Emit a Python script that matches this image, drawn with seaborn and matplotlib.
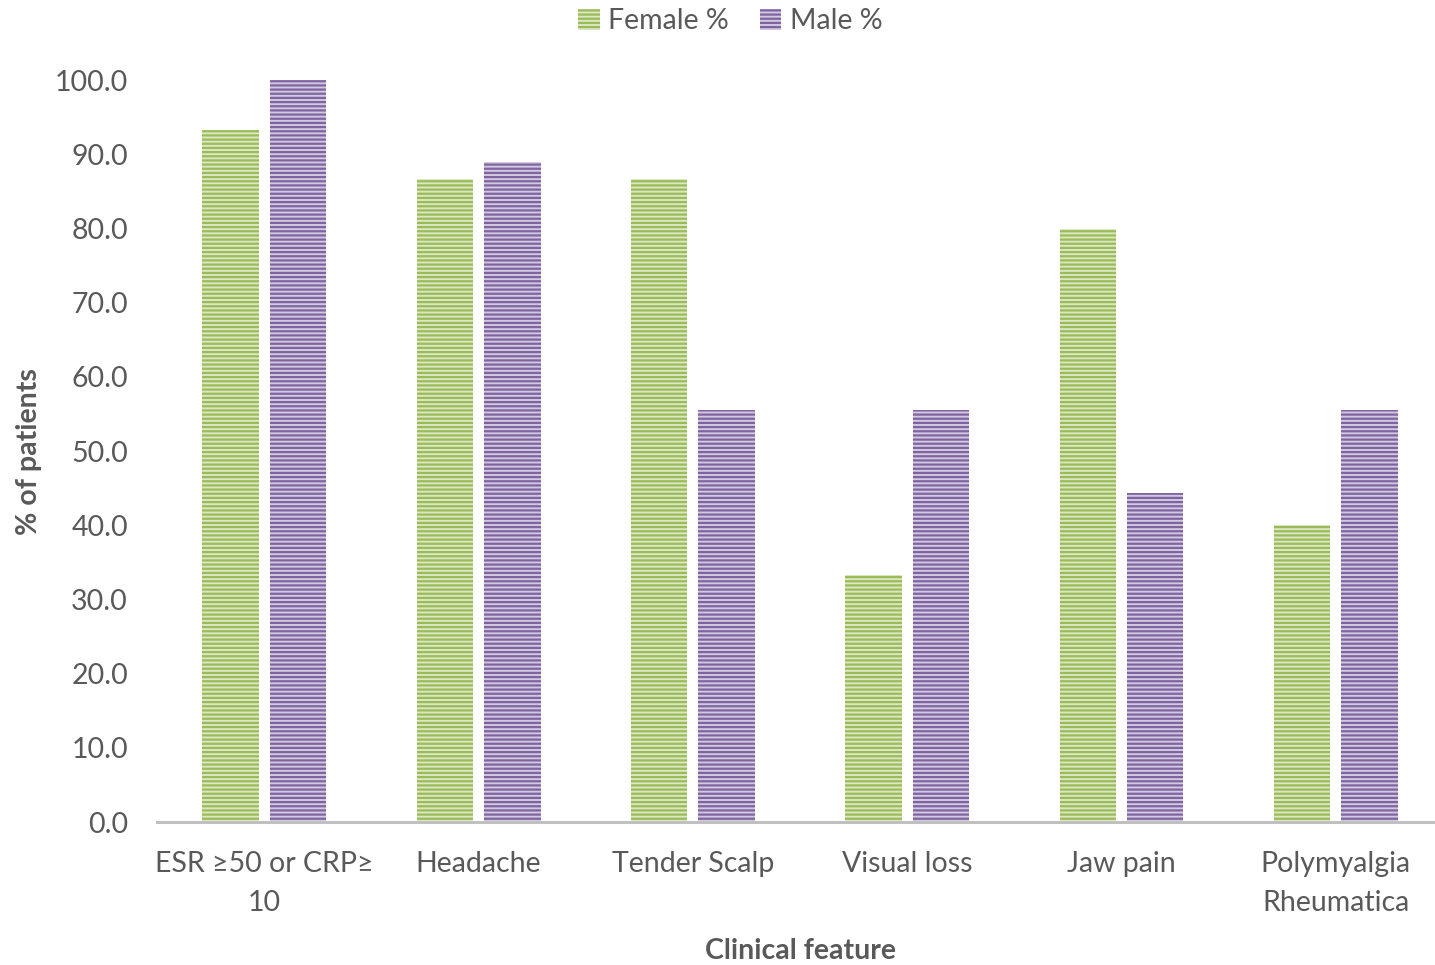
import matplotlib
matplotlib.use("Agg")
import matplotlib.pyplot as plt
from matplotlib.patches import Patch
import seaborn as sns
import pandas as pd

features = ["ESR \u226550 or CRP\u2265\n10", "Headache", "Tender Scalp",
            "Visual loss", "Jaw pain", "Polymyalgia\nRheumatica"]
female_pct = [93.3, 86.7, 86.7, 33.3, 80.0, 40.0]
male_pct = [100.0, 88.9, 55.6, 55.6, 44.4, 55.6]
series = ["Female %", "Male %"]
y_ticks = [0, 10, 20, 30, 40, 50, 60, 70, 80, 90, 100]

face_colors = {"Female %": "#dbe7c3", "Male %": "#d2c8df"}
stripe_colors = {"Female %": "#9bbb59", "Male %": "#8064a2"}

df = pd.DataFrame({
    "feature": features * 2,
    "series": [series[0]] * len(features) + [series[1]] * len(features),
    "value": female_pct + male_pct,
})

sns.set_theme(style="white")
plt.rcParams["font.family"] = ["Lato", "DejaVu Sans"]
plt.rcParams["hatch.linewidth"] = 1.6

fig = plt.figure(figsize=(14.35, 9.65), dpi=100)
ax = fig.add_axes([0.1095, 0.148, 0.896, 0.769])

sns.barplot(data=df, x="feature", y="value", hue="series", order=features,
            hue_order=series, palette=face_colors, width=0.63, gap=0.165,
            ax=ax, legend=False, saturation=1)

n = len(features)
for i, bar in enumerate(ax.patches[:2 * n]):
    s = series[i // n]
    bar.set_facecolor(face_colors[s])
    bar.set_edgecolor(stripe_colors[s])
    bar.set_hatch("----")
    bar.set_linewidth(0)

ax.set_xlim(-0.5, n - 0.5)
ax.set_ylim(0, 100)
ax.set_yticks(y_ticks)
ax.set_yticklabels([f"{v:.1f}" for v in y_ticks])
text_color = "#595959"
fs = 20.5
ax.tick_params(axis="y", length=0, pad=21, labelsize=fs, labelcolor=text_color)
ax.tick_params(axis="x", length=0, pad=21, labelsize=fs, labelcolor=text_color)
for lab in ax.get_xticklabels():
    lab.set_linespacing(1.6)
for side in ["top", "right", "left"]:
    ax.spines[side].set_visible(False)
ax.spines["bottom"].set_color("#c0c0c0")
ax.spines["bottom"].set_linewidth(2.2)

ax.set_xlabel("Clinical feature", fontsize=fs, fontweight="bold",
              color=text_color, labelpad=16)
ax.set_ylabel("% of patients", fontsize=fs, fontweight="bold",
              color=text_color, labelpad=9)

handles = [Patch(facecolor=face_colors[s], edgecolor=stripe_colors[s],
                 hatch="----", linewidth=0, label=s) for s in series]
leg = fig.legend(handles=handles, loc="upper center", bbox_to_anchor=(0.509, 1.018),
                 ncol=2, frameon=False, fontsize=fs, handlelength=0.75,
                 handleheight=0.75, handletextpad=0.3, columnspacing=1.1)
for t in leg.get_texts():
    t.set_color(text_color)

fig.savefig("out.png", dpi=100)
